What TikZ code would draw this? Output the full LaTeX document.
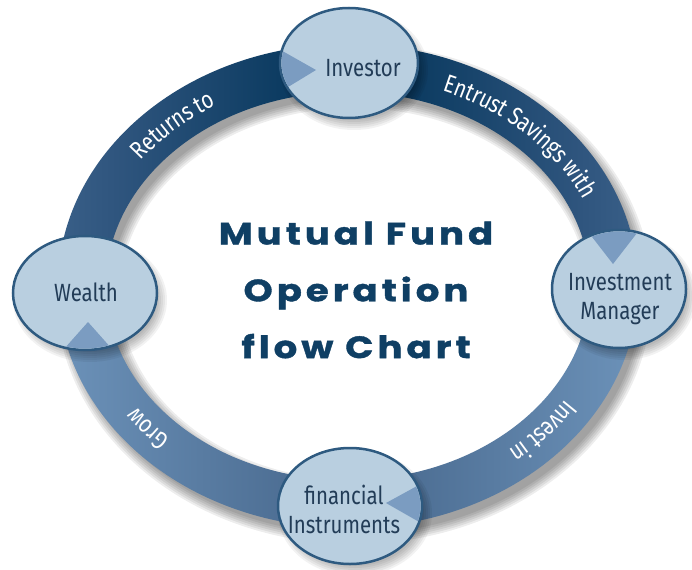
\documentclass[tikz,border=0pt]{standalone}
\usepackage{fontspec}
\setmainfont{Fira Sans}
\newfontfamily\labelfont{Fira Sans}[FakeStretch=0.82]
\newfontfamily\titlefont{Poppins}[LetterSpace=13, FakeStretch=1.2, FakeBold=1.2]
\usetikzlibrary{shapes.geometric,decorations.text}

\definecolor{navy}{HTML}{0D3C62}
\definecolor{bandlight}{HTML}{6C92B9}
\definecolor{bandhalf}{HTML}{2F557E}
\definecolor{bandmid}{HTML}{45658A}
\definecolor{nodefill}{HTML}{B9CFE0}
\definecolor{nodeedge}{HTML}{2E5A80}
\definecolor{tipfill}{HTML}{7B9CC1}
\definecolor{labeltext}{HTML}{223C57}
\definecolor{titleblue}{HTML}{0F3F64}

% upper half of the ring: dark in the middle, light towards both ends
\pgfdeclarehorizontalshading{upperband}{100bp}{
  color(0bp)=(bandlight); color(30bp)=(bandhalf); color(44bp)=(navy);
  color(56bp)=(navy); color(70bp)=(bandhalf); color(100bp)=(bandlight)}

% ring geometry: centre (348,286), mid radii 266 x 218, half width 24
\newcommand{\cx}{348}
\newcommand{\cy}{286}

\newcommand{\softshadow}[3]{%
  \foreach \g in {0,1,...,5}{
    \fill[black, opacity=0.05, shift={(#1.center)}]
      (5,7) ellipse[x radius={#2+5-2*\g}, y radius={#3+5-2*\g}];
  }}

\tikzset{
  stage/.style={ellipse, fill=nodefill, draw=nodeedge, line width=2.5bp, inner sep=0pt},
  stagetext/.style={font=\labelfont\fontsize{25}{29}\selectfont, text=labeltext, align=center, inner sep=0pt},
  bandtext/.style={decorate, decoration={text along path, text align=center, raise=-8bp,
      text color=white}},
}

\begin{document}
\begin{tikzpicture}[x=1bp, y=-1bp]
\useasboundingbox (0,0) rectangle (692,570);
\fill[white] (0,0) rectangle (692,570);

% soft shadow under the ring
\foreach \w in {64,60,56,52,48,44}{
  \draw[black, opacity=0.07, line width=\w bp] (\cx+6,\cy+8) ellipse[x radius=266, y radius=218];
}

% the ring, upper and lower halves
\shade[shading=upperband]
  (\cx+290,\cy) arc[start angle=0, end angle=-180, x radius=290, y radius=242]
  -- (\cx-242,\cy) arc[start angle=180, end angle=360, x radius=242, y radius=194] -- cycle;
\shade[left color=bandlight, right color=bandlight, middle color=bandmid]
  (\cx+290,\cy) arc[start angle=0, end angle=180, x radius=290, y radius=242]
  -- (\cx-242,\cy) arc[start angle=180, end angle=0, x radius=242, y radius=194] -- cycle;

% labels along the ring, read clockwise
\path[bandtext, decoration={text={|\labelfont\fontsize{25}{25}\selectfont|Returns to}}]
  ({\cx+266*cos(197)},{\cy+218*sin(197)}) arc[start angle=197, end angle=257, x radius=266, y radius=218];
\path[bandtext, decoration={text={|\labelfont\fontsize{25}{25}\selectfont|Entrust Savings with}}]
  ({\cx+266*cos(275)},{\cy+218*sin(275)}) arc[start angle=275, end angle=355, x radius=266, y radius=218];
\path[bandtext, decoration={text={|\labelfont\fontsize{25}{25}\selectfont|Invest in}}]
  ({\cx+266*cos(11)},{\cy+218*sin(11)}) arc[start angle=11, end angle=71, x radius=266, y radius=218];
\path[bandtext, decoration={text={|\labelfont\fontsize{25}{25}\selectfont|Grow}}]
  ({\cx+266*cos(115)},{\cy+218*sin(115)}) arc[start angle=115, end angle=165, x radius=266, y radius=218];

% stages
\coordinate (investor-c) at (349,63);
\coordinate (manager-c) at (619,289);
\coordinate (instruments-c) at (350,506);
\coordinate (wealth-c) at (85,293);

\softshadow{investor-c}{69}{55}
\softshadow{manager-c}{67}{59}
\softshadow{instruments-c}{72}{58}
\softshadow{wealth-c}{72}{57}

\node[stage, minimum width=138bp, minimum height=110bp] (investor) at (investor-c) {};
\node[stage, minimum width=134bp, minimum height=118bp] (manager) at (manager-c) {};
\node[stage, minimum width=144bp, minimum height=116bp] (instruments) at (instruments-c) {};
\node[stage, minimum width=144bp, minimum height=114bp] (wealth) at (wealth-c) {};

% arrow tips entering each stage
\begin{scope}
  \clip (investor-c) ellipse[x radius=67.5, y radius=53.5];
  \fill[tipfill] (270,44) -- (316,70) -- (270,98) -- cycle;
\end{scope}
\begin{scope}
  \clip (manager-c) ellipse[x radius=65.5, y radius=57.5];
  \fill[tipfill] (582,224) -- (613,264) -- (644,224) -- cycle;
\end{scope}
\begin{scope}
  \clip (instruments-c) ellipse[x radius=70.5, y radius=56.5];
  \fill[tipfill] (428,480) -- (386,503) -- (428,527) -- cycle;
\end{scope}
\begin{scope}
  \clip (wealth-c) ellipse[x radius=70.5, y radius=55.5];
  \fill[tipfill] (56,358) -- (88,322) -- (120,358) -- cycle;
\end{scope}

\node[stagetext] (investor-label) at (363,68) {Investor};
\node[stagetext] (manager-label) at (620,299) {Investment\\Manager};
\node[stagetext] (instruments-label) at (344,509) {financial\\Instruments};
\node[stagetext] (wealth-label) at (86,292) {Wealth};

% title
\node[font=\titlefont\bfseries\fontsize{31}{57}\selectfont, text=titleblue, align=center]
  (title) at (356,290) {Mutual Fund\\Operation\\flow Chart};
\end{tikzpicture}
\end{document}
